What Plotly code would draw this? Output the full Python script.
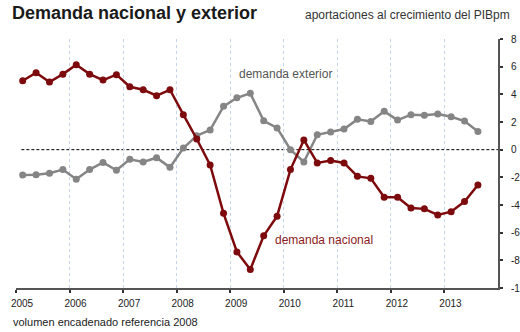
import plotly.graph_objects as go

# Quarterly contributions to GDP growth (percentage points), 2005Q1 - 2013Q3
quarters = [2005 + i // 4 + (i % 4) * 0.25 + 0.125 for i in range(35)]

demanda_nacional = [
    4.98, 5.56, 4.89, 5.46,
    6.14, 5.46, 5.03, 5.42,
    4.55, 4.33, 3.90, 4.33,
    2.53, 0.77, -1.11, -4.60,
    -7.39, -8.66, -6.23, -4.81,
    -1.44, 0.70, -0.96, -0.79,
    -0.96, -1.93, -2.07, -3.44,
    -3.44, -4.21, -4.28, -4.72,
    -4.48, -3.75, -2.55,
]

demanda_exterior = [
    -1.83, -1.81, -1.71, -1.44,
    -2.14, -1.44, -0.92, -1.49,
    -0.70, -0.89, -0.58, -1.28,
    0.12, 1.01, 1.42, 3.13,
    3.75, 4.07, 2.09, 1.57,
    0.00, -0.89, 1.08, 1.28,
    1.49, 2.19, 2.04, 2.77,
    2.14, 2.53, 2.48, 2.58,
    2.38, 2.07, 1.32,
]

year_ticks = list(range(2005, 2014))
year_labels = [str(y) for y in year_ticks]
y_ticks = list(range(-10, 9, 2))
y_labels = [str(v) for v in y_ticks]

RED = "#7d0a0c"
GREY = "#858585"
FONT = "Liberation Sans, Arial, sans-serif"

W, H = 520, 332
M = dict(l=16, r=22, t=39, b=44)
PW = W - M["l"] - M["r"]
PH = H - M["t"] - M["b"]


def px(x):
    return (x - M["l"]) / PW


def py(y):
    return (H - M["b"] - y) / PH


fig = go.Figure()

fig.add_trace(go.Scatter(
    x=quarters, y=demanda_exterior, mode="lines+markers",
    line=dict(color=GREY, width=2.5),
    marker=dict(color=GREY, size=7),
    showlegend=False, hoverinfo="skip",
))
fig.add_trace(go.Scatter(
    x=quarters, y=demanda_nacional, mode="lines+markers",
    line=dict(color=RED, width=2.5),
    marker=dict(color=RED, size=7),
    showlegend=False, hoverinfo="skip",
))

# dashed zero reference
fig.add_shape(type="line", xref="x", yref="y", x0=2005.1, x1=2014, y0=0, y1=0,
              line=dict(color="black", width=1, dash="3px,2px"), layer="below")

fig.add_annotation(x=2010.03, y=5.47, xref="x", yref="y", text="demanda exterior",
                   showarrow=False, font=dict(family=FONT, size=12, color="#555555"))
fig.add_annotation(x=2010.75, y=-6.5, xref="x", yref="y", text="demanda nacional",
                   showarrow=False, font=dict(family=FONT, size=12, color="#8b1a1c"))

fig.add_annotation(x=px(10), y=py(13), xref="paper", yref="paper",
                   xanchor="left", yanchor="middle", showarrow=False,
                   text="<b>Demanda nacional y exterior</b>",
                   font=dict(family=FONT, size=18, color="#1a1a1a"))
fig.add_annotation(x=px(512), y=py(15), xref="paper", yref="paper",
                   xanchor="right", yanchor="middle", showarrow=False,
                   text="aportaciones al crecimiento del PIBpm",
                   font=dict(family=FONT, size=12, color="#333333"))
fig.add_annotation(x=px(11), y=py(322), xref="paper", yref="paper",
                   xanchor="left", yanchor="middle", showarrow=False,
                   text="volumen encadenado referencia 2008",
                   font=dict(family=FONT, size=11, color="#222222"))

fig.update_layout(
    width=W, height=H, margin=M,
    template="none",
    paper_bgcolor="white", plot_bgcolor="white",
    font=dict(family=FONT, size=10, color="#222222"),
    xaxis=dict(
        range=[2005, 2014], tickvals=year_ticks, ticktext=year_labels,
        showgrid=True, gridcolor="#c6d4ea", griddash="dot", gridwidth=1,
        zeroline=False, showline=True, linecolor="#555555", linewidth=2,
        ticks="outside", ticklen=3, tickwidth=1.5, tickcolor="#333333",
        ticklabelshift=6, ticklabelstandoff=2, automargin=False,
        tickfont=dict(family=FONT, size=10, color="#222222"),
    ),
    xaxis2=dict(
        range=[2005, 2014], overlaying="x", anchor="y", side="bottom",
        tickvals=year_ticks + [2014], showticklabels=False, showgrid=False,
        zeroline=False, showline=False,
        ticks="inside", ticklen=3, tickwidth=1.5, tickcolor="#333333",
    ),
    yaxis=dict(
        range=[-10, 8], side="right", tickvals=y_ticks, ticktext=y_labels,
        showgrid=False, zeroline=False, showline=True,
        linecolor="#555555", linewidth=2,
        ticks="outside", ticklen=3, tickwidth=1.5, tickcolor="#333333",
        ticklabelstandoff=6, automargin=False,
        tickfont=dict(family=FONT, size=10, color="#222222"),
    ),
)

fig.write_html("out.html")
